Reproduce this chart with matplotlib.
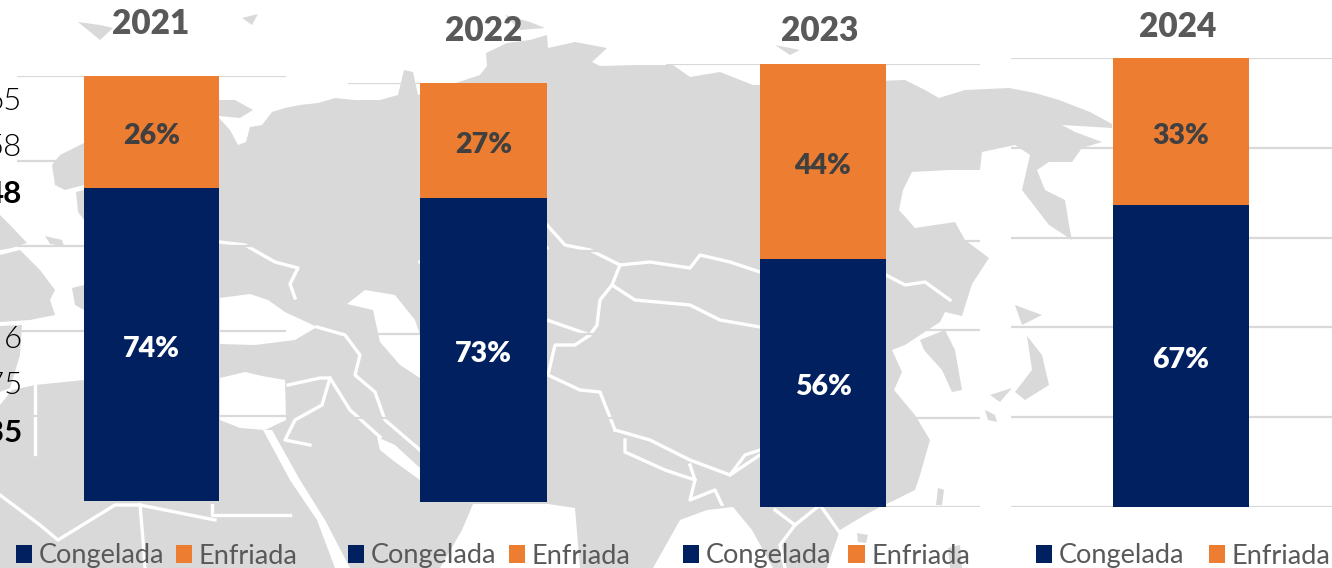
import matplotlib
matplotlib.use("Agg")
import matplotlib.pyplot as plt
from matplotlib.patches import Polygon

W, H = 1332, 568

years = ["2021", "2022", "2023", "2024"]
congelada = [73.6, 72.6, 56, 67.3]
enfriada = [26.4, 27.4, 44, 32.7]
side_labels = ["65", "58", "48", "6", "75", "35"]
side_bold = [False, False, True, False, False, True]

NAVY = "#00205F"
ORANGE = "#ED7D31"
GREY = "#D9D9D9"
TITLE = "#595959"
DARK = "#404040"

plt.rcParams["font.family"] = ["Lato", "DejaVu Sans"]

# pixel boxes for the four small charts: left, right, top, bottom, bar left, bar right
boxes = [
    (17, 286, 76, 501, 84, 219),
    (348, 619, 83, 502, 420, 547),
    (666, 980, 64, 507, 760, 886),
    (1011, 1351, 58, 507, 1113, 1249),
]
title_pos = [(151, 24), (484, 31), (820, 31), (1178, 27)]
legend_x = [16, 348, 683, 1036]
legend_gap = [0.42, 0.46, 0.62, 0.9]
side_y = [102, 148, 194, 340, 386, 433]

fig = plt.figure(figsize=(W / 100, H / 100), dpi=100)

### background map, rough outline in pixels ###
bg = fig.add_axes([0, 0, 1, 1], zorder=0)
bg.set_xlim(0, W)
bg.set_ylim(H, 0)
bg.axis("off")

land = [
    (150, 118), (219, 118), (230, 130), (238, 145), (246, 142), (250, 127), (262, 125), (272, 112),
    (285, 108), (300, 105), (318, 103), (335, 98), (355, 100), (380, 100), (398, 95), (404, 70),
    (413, 72), (418, 95), (450, 85), (480, 75), (487, 66), (486, 53), (507, 43), (530, 40),
    (547, 35), (548, 48), (575, 42), (607, 48), (592, 62), (600, 66), (637, 65), (673, 65),
    (690, 77), (720, 72), (753, 85), (905, 80), (925, 90), (939, 98), (965, 90), (1009, 88),
    (1035, 93), (1059, 100), (1090, 112), (1112, 124), (1112, 128), (1062, 125), (1075, 132),
    (1102, 142), (1082, 148), (1072, 162), (1049, 162), (1037, 170), (1045, 190), (1065, 200),
    (1069, 225), (1072, 240), (1049, 225), (1022, 190), (1030, 155), (1015, 145), (982, 152),
    (980, 170), (949, 170), (912, 172), (903, 190), (899, 210), (915, 228), (955, 222), (965, 240),
    (989, 258), (972, 284), (962, 316), (945, 312), (940, 322), (905, 345), (892, 350), (902, 372),
    (894, 390), (915, 415), (930, 440), (920, 475), (915, 490), (895, 500), (880, 507), (865, 515),
    (840, 530), (827, 568), (773, 568), (752, 530), (733, 507), (707, 510), (680, 520), (653, 568),
    (580, 568), (575, 508), (548, 504), (473, 504), (462, 530), (440, 568), (0, 568), (0, 405),
    (12, 390), (35, 385), (84, 380), (150, 380),
]
bg.add_patch(Polygon(land, closed=True, fc=GREY, ec="none"))

islands = [
    [(78, 22), (100, 40), (113, 28), (100, 25)],
    [(242, 18), (258, 14), (252, 25)],
    [(505, 15), (530, 22), (545, 28), (520, 30)],
    [(775, 45), (800, 50), (790, 55)],
    [(219, 100), (235, 100), (253, 110), (240, 118), (219, 116)],
    [(55, 185), (52, 165), (60, 155), (84, 143), (84, 185), (65, 190)],
    [(0, 215), (10, 225), (27, 243), (12, 248), (0, 250)],
    [(0, 255), (20, 250), (40, 270), (55, 290), (50, 300), (55, 315), (30, 320), (0, 322)],
    [(0, 326), (22, 325), (20, 355), (10, 388), (0, 392)],
    [(72, 288), (84, 285), (84, 310), (75, 305)],
    [(76, 192), (84, 190), (84, 220), (78, 212)],
    [(45, 236), (62, 240), (64, 246), (50, 244)],
    [(920, 340), (945, 330), (955, 350), (962, 390), (952, 392), (942, 370), (924, 350)],
    [(1015, 305), (1042, 315), (1022, 325)],
    [(1027, 336), (1042, 355), (1049, 385), (1025, 400), (1015, 392), (1032, 370)],
    [(990, 395), (1012, 388), (1000, 402)],
    [(985, 410), (995, 415), (997, 422), (988, 420)],
    [(938, 488), (944, 490), (942, 505), (936, 505)],
    [(948, 548), (960, 545), (962, 568), (950, 568)],
    [(857, 533), (868, 535), (866, 543), (858, 542)],
]
for pts in islands:
    bg.add_patch(Polygon(pts, closed=True, fc=GREY, ec="none"))

seas = [
    # med, black sea, caspian, red sea, gulf
    [(220, 378), (245, 372), (262, 376), (285, 380), (286, 420), (265, 430), (240, 428), (220, 420)],
    [(220, 298), (250, 294), (268, 300), (285, 312), (317, 327), (295, 340), (255, 345), (220, 344)],
    [(347, 304), (365, 290), (395, 295), (415, 320), (420, 335), (420, 378), (400, 365), (380, 342), (373, 310)],
    [(263, 430), (272, 430), (300, 480), (325, 520), (350, 568), (335, 568), (317, 520), (290, 480)],
    [(377, 437), (395, 445), (420, 468), (420, 480), (395, 462), (380, 450)],
]
for pts in seas:
    bg.add_patch(Polygon(pts, closed=True, fc="white", ec="none"))

borders = [
    [(219, 242), (245, 245), (275, 262), (298, 268), (290, 284), (295, 298)],
    [(317, 327), (345, 335), (360, 355), (355, 375), (375, 392), (385, 420), (420, 450)],
    [(288, 385), (320, 378), (330, 378), (322, 405), (295, 420), (285, 440), (310, 445)],
    [(330, 378), (350, 410), (380, 437)],
    [(0, 495), (40, 525), (58, 540), (115, 505), (140, 505), (215, 520)],
    [(140, 505), (143, 540), (145, 568)],
    [(212, 505), (212, 515), (290, 515)],
    [(420, 262), (470, 262), (495, 275), (530, 262), (547, 248)],
    [(547, 225), (565, 245), (590, 250), (620, 265), (650, 262), (690, 268), (700, 255), (730, 262), (760, 272)],
    [(620, 265), (612, 285), (635, 300), (690, 305), (720, 320), (760, 327)],
    [(547, 320), (590, 335), (575, 345), (555, 345), (548, 375), (580, 390), (600, 392), (615, 430)],
    [(612, 285), (600, 300), (597, 325), (590, 335)],
    [(615, 430), (650, 440), (690, 460), (730, 475), (760, 455)],
    [(625, 440), (625, 452), (665, 470), (695, 480), (690, 465)],
    [(695, 480), (690, 500), (715, 490), (722, 505)],
    [(730, 475), (745, 455), (760, 450)],
    [(886, 275), (905, 285), (925, 282), (950, 300)],
    [(775, 510), (795, 525), (820, 505), (845, 540), (830, 568)],
    [(795, 525), (780, 545), (785, 568)],
    [(35, 385), (35, 454)],
]
for pts in borders:
    bg.plot([p[0] for p in pts], [p[1] for p in pts], color="white", lw=2.4, solid_joinstyle="round")

# side numbers cut off by the left edge
for txt, y, bold in zip(side_labels, side_y, side_bold):
    bg.text(22, y, txt, ha="right", va="center", fontsize=22.5, color="black",
            fontweight="bold" if bold else 300)

### the four stacked bars ###
for i, year in enumerate(years):
    left, right, top, bottom, bar_l, bar_r = boxes[i]
    ax = fig.add_axes([left / W, 1 - bottom / H, (right - left) / W, (bottom - top) / H], zorder=2)
    ax.patch.set_alpha(0)
    ax.set_xlim(left, right)
    ax.set_ylim(0, 100)
    ax.set_yticks(range(0, 101, 20))
    ax.tick_params(left=False, bottom=False, labelleft=False, labelbottom=False)
    ax.set_xticks([])
    ax.grid(axis="y", color=GREY, lw=1.6)
    ax.set_axisbelow(True)
    for s in ax.spines.values():
        s.set_visible(False)

    c = (bar_l + bar_r) / 2
    b1 = ax.bar(c, congelada[i], width=bar_r - bar_l, color=NAVY, label="Congelada")
    b2 = ax.bar(c, enfriada[i], width=bar_r - bar_l, bottom=congelada[i], color=ORANGE, label="Enfriada")
    ax.annotate(f"{congelada[i]:.0f}%", (c, congelada[i] / 2), xytext=(0, -3), textcoords="offset points",
                ha="center", va="center", color="white", fontsize=20.5, fontweight=800)
    ax.annotate(f"{enfriada[i]:.0f}%", (c, congelada[i] + enfriada[i] / 2), xytext=(0, -3), textcoords="offset points",
                ha="center", va="center", color=DARK, fontsize=20.5, fontweight=800)

    tx, ty = title_pos[i]
    fig.text(tx / W, 1 - ty / H, year, ha="center", va="center", color=TITLE,
             fontsize=24, fontweight=800, zorder=5)

    fig.legend(handles=[b1, b2], loc="center left",
               bbox_to_anchor=(legend_x[i] / W, 1 - 556 / H), ncol=2, frameon=False,
               fontsize=19.5, labelcolor=TITLE, handlelength=0.6, handleheight=0.6,
               handletextpad=0.25, columnspacing=legend_gap[i], borderpad=0, borderaxespad=0)

fig.savefig("out.png", dpi=100)
